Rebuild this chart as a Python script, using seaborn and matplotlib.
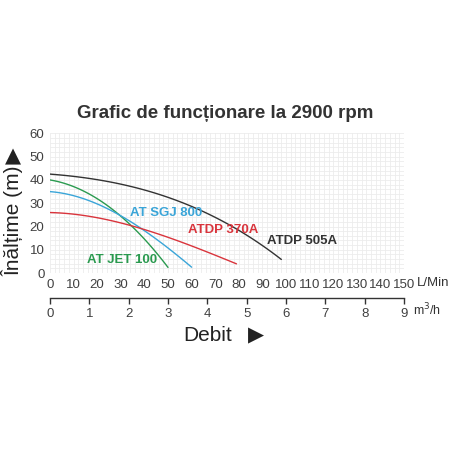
import matplotlib
matplotlib.use("Agg")
import matplotlib.pyplot as plt
import seaborn as sns
import pandas as pd
import numpy as np

# debit (L/min) vs inaltime (m)
jet_q = [0, 10, 20, 30, 40, 50]
jet_h = [40, 37, 32, 24.5, 14.5, 2.5]
sgj_q = [0, 10, 20, 30, 40, 50, 60]
sgj_h = [35, 33, 30, 24.5, 18, 11, 2.5]
d370_q = [0, 20, 30, 40, 58, 79]
d370_h = [26, 23.7, 21.6, 18.7, 12.4, 4]
d505_q = [0, 30, 60, 72, 85, 98]
d505_h = [42.5, 38, 29, 22.7, 15, 6]

names = ["AT JET 100", "AT SGJ 800", "ATDP 370A", "ATDP 505A"]
colors = ["#2a9a4f", "#3aa5d8", "#d9343c", "#333333"]

frames = []
for n, q, h in zip(names, [jet_q, sgj_q, d370_q, d505_q], [jet_h, sgj_h, d370_h, d505_h]):
    # smooth curve through the read points
    qq = np.linspace(q[0], q[-1], 60)
    coef = np.polyfit(q, h, 3)
    hh = np.polyval(coef, qq)
    frames.append(pd.DataFrame({"q": qq, "h": hh, "pump": n}))
df = pd.concat(frames)

sns.set_style("white")
plt.rcParams["font.family"] = ["Liberation Sans", "DejaVu Sans"]

fig = plt.figure(figsize=(4.5, 4.5), dpi=100)
ax = fig.add_axes([0.111, 0.393, 0.787, 0.311])

sns.lineplot(data=df, x="q", y="h", hue="pump", palette=dict(zip(names, colors)),
             linewidth=1, legend=False, ax=ax, sort=False)

ax.set_xlim(0, 150)
ax.set_ylim(0, 60)
ax.set_xticks(range(0, 151, 10))
ax.set_yticks(range(0, 61, 10))
ax.set_xticks(range(0, 151, 2), minor=True)
ax.set_yticks(range(0, 61, 2), minor=True)
ax.grid(which="both", color="#ececec", linewidth=0.6)
ax.set_axisbelow(True)
for s in ax.spines.values():
    s.set_visible(False)
ax.tick_params(which="both", length=0, labelsize=9.5, labelcolor="#404040", pad=4)
ax.set_xlabel("")
ax.set_ylabel("")

# curve labels
ax.text(15.5, 5.5, "AT JET 100", color=colors[0], fontsize=9.5, fontweight="bold", va="center")
ax.text(34, 26, "AT SGJ 800", color=colors[1], fontsize=9.5, fontweight="bold", va="center")
ax.text(58.5, 18.5, "ATDP 370A", color=colors[2], fontsize=9.5, fontweight="bold", va="center")
ax.text(92, 13.7, "ATDP 505A", color=colors[3], fontsize=9.5, fontweight="bold", va="center")

# second scale in m3/h
sec = ax.secondary_xaxis(-0.18, functions=(lambda x: x * 0.06, lambda x: x / 0.06))
sec.set_xticks(range(0, 10))
sec.spines["bottom"].set_color("#333333")
sec.spines["bottom"].set_linewidth(1)
sec.tick_params(direction="out", length=4, width=1, color="#333333", labelsize=9.5,
                labelcolor="#404040", pad=3)

ax.text(1.035, -0.07, "L/Min", transform=ax.transAxes, fontsize=9.5, color="#333333", va="center")
ax.text(1.025, -0.26, "m$^3$/h", transform=ax.transAxes, fontsize=9, color="#333333", va="center")

fig.text(0.5, 0.748, "Grafic de funcționare la 2900 rpm", ha="center", va="center",
         fontsize=13.5, fontweight="bold", color="#333333")
fig.text(0.516, 0.255, "Debit", ha="right", va="center", fontsize=15, color="#222222")
fig.text(0.569, 0.255, "▶", ha="center", va="center", fontsize=15, color="#222222",
         family="DejaVu Sans")
fig.text(0.028, 0.51, "Înălțime (m)", rotation=90, ha="center", va="center",
         fontsize=15, color="#222222")
fig.text(0.028, 0.652, "▲", ha="center", va="center", fontsize=15, color="#222222",
         family="DejaVu Sans")

fig.savefig("out.png", dpi=100, facecolor="white")
